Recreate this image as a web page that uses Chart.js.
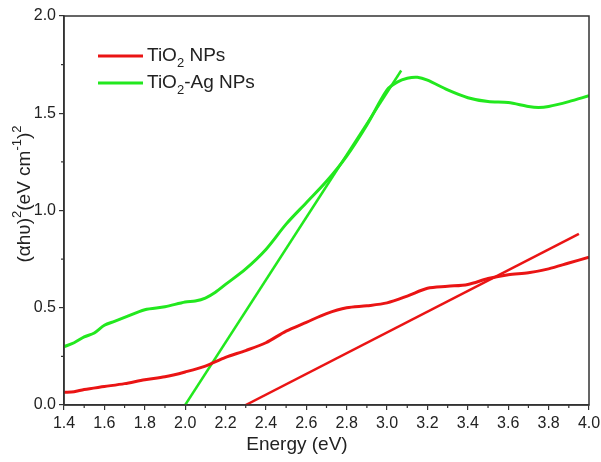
<!DOCTYPE html>
<html><head><meta charset="utf-8">
<script src="https://cdn.jsdelivr.net/npm/chart.js@4.4.1/dist/chart.umd.min.js"></script>
<style>html,body{margin:0;padding:0;background:#fff}#wrap{width:601px;height:462px}</style>
</head><body><div id="wrap"><canvas id="c" width="601" height="462"></canvas></div>
<script>
const xTicks = [1.4,1.6,1.8,2.0,2.2,2.4,2.6,2.8,3.0,3.2,3.4,3.6,3.8,4.0];
const yTicks = [0.0,0.5,1.0,1.5,2.0];
const tiEnergy = [1.4,1.45,1.5,1.6,1.7,1.8,1.9,2.0,2.1,2.2,2.3,2.4,2.5,2.6,2.7,2.8,2.9,3.0,3.1,3.2,3.3,3.4,3.5,3.6,3.7,3.8,3.9,4.0];
const tiValues = [0.065,0.068,0.08,0.095,0.11,0.13,0.145,0.17,0.2,0.245,0.28,0.32,0.38,0.425,0.47,0.50,0.51,0.525,0.56,0.60,0.61,0.62,0.65,0.67,0.68,0.70,0.73,0.76];
const agEnergy = [1.4,1.45,1.5,1.55,1.6,1.65,1.7,1.8,1.9,2.0,2.05,2.1,2.15,2.2,2.3,2.4,2.5,2.6,2.7,2.8,2.9,3.0,3.05,3.1,3.15,3.2,3.3,3.4,3.5,3.6,3.7,3.75,3.8,3.9,4.0];
const agValues = [0.30,0.32,0.35,0.37,0.41,0.43,0.45,0.49,0.505,0.53,0.535,0.55,0.58,0.62,0.70,0.80,0.93,1.04,1.15,1.28,1.44,1.62,1.66,1.68,1.685,1.67,1.62,1.58,1.56,1.555,1.535,1.53,1.535,1.56,1.59];
const tiFitX = [2.3,3.95];
const tiFitY = [0.0,0.88];
const agFitX = [2.0,3.07];
const agFitY = [0.0,1.72];
const RED = '#ea1414', GREEN = '#22e81e';
const pts = (xs,ys)=>xs.map((x,i)=>({x:x,y:ys[i]}));
const FONT = "'Liberation Sans', Arial, sans-serif";

const deco = {
  id:'deco',
  afterDraw(chart){
    const ctx = chart.ctx, a = chart.chartArea, xs = chart.scales.x, ys = chart.scales.y;
    ctx.save();
    ctx.strokeStyle = '#333'; ctx.lineWidth = 1.5;
    ctx.strokeRect(a.left, a.top, a.right-a.left, a.bottom-a.top);
    // minor ticks
    ctx.lineWidth = 1.2;
    for (let i=0;i<xTicks.length-1;i++){
      const v=(xTicks[i]+xTicks[i+1])/2, px=xs.getPixelForValue(v);
      ctx.beginPath(); ctx.moveTo(px,a.bottom); ctx.lineTo(px,a.bottom+3); ctx.stroke();
    }
    for (let i=0;i<yTicks.length-1;i++){
      const v=(yTicks[i]+yTicks[i+1])/2, py=ys.getPixelForValue(v);
      ctx.beginPath(); ctx.moveTo(a.left,py); ctx.lineTo(a.left-3,py); ctx.stroke();
    }
    // legend
    const items=[['TiO','2',' NPs',RED],['TiO','2','-Ag NPs',GREEN]];
    items.forEach((it,i)=>{
      const y = 56 + i*27;
      ctx.strokeStyle=it[3]; ctx.lineWidth=3;
      ctx.beginPath(); ctx.moveTo(98,y); ctx.lineTo(143,y); ctx.stroke();
      ctx.fillStyle='#222'; ctx.textBaseline='middle'; ctx.textAlign='left';
      ctx.font='19px '+FONT;
      let x=147; ctx.fillText(it[0],x,y); x+=ctx.measureText(it[0]).width;
      ctx.font='13px '+FONT; ctx.fillText(it[1],x,y+7); x+=ctx.measureText(it[1]).width;
      ctx.font='19px '+FONT; ctx.fillText(it[2],x,y);
    });
    // x title
    ctx.fillStyle='#222'; ctx.font='19px '+FONT; ctx.textAlign='center'; ctx.textBaseline='middle';
    ctx.fillText('Energy (eV)', 297, 445);
    // y title
    const parts=[['(αhʋ)',0],['2',1],['(eV cm',0],['-1',1],[')',0],['2',1]];
    ctx.save(); ctx.translate(25,194); ctx.rotate(-Math.PI/2);
    let w=0; parts.forEach(p=>{ctx.font=(p[1]?'13px ':'19px ')+FONT; w+=ctx.measureText(p[0]).width;});
    let x=-w/2; ctx.textAlign='left';
    parts.forEach(p=>{ctx.font=(p[1]?'13px ':'19px ')+FONT; ctx.fillText(p[0],x,p[1]?-8:0); x+=ctx.measureText(p[0]).width;});
    ctx.restore();
    ctx.restore();
  }
};

new Chart(document.getElementById('c'),{
  type:'scatter',
  data:{datasets:[
    {label:'TiO2 NPs',data:pts(tiEnergy,tiValues),showLine:true,borderColor:RED,borderWidth:3,pointRadius:0,tension:0.3},
    {label:'TiO2-Ag NPs',data:pts(agEnergy,agValues),showLine:true,borderColor:GREEN,borderWidth:3,pointRadius:0,tension:0.3},
    {label:'fit1',data:pts(tiFitX,tiFitY),showLine:true,borderColor:RED,borderWidth:2.5,pointRadius:0},
    {label:'fit2',data:pts(agFitX,agFitY),showLine:true,borderColor:GREEN,borderWidth:2.5,pointRadius:0}
  ]},
  options:{
    responsive:false, animation:false,
    layout:{padding:{top:16,right:12,left:0,bottom:0}},
    plugins:{legend:{display:false},tooltip:{enabled:false}},
    scales:{
      x:{type:'linear',min:1.4,max:4.0,
        afterBuildTicks(s){s.ticks=xTicks.map(v=>({value:v}));},
        afterFit(s){s.height=57; s.paddingRight=0; s.paddingLeft=0;},
        grid:{display:true,drawOnChartArea:false,drawTicks:true,tickLength:5,color:'#333',lineWidth:1.2},
        border:{display:true,color:'#333',width:1.5},
        ticks:{color:'#222',font:{family:FONT,size:16},padding:4,maxRotation:0,autoSkip:false,callback:v=>v.toFixed(1)}},
      y:{type:'linear',min:0,max:2.0,
        afterBuildTicks(s){s.ticks=yTicks.map(v=>({value:v}));},
        afterFit(s){s.width=64; s.paddingTop=0; s.paddingBottom=0;},
        grid:{display:true,drawOnChartArea:false,drawTicks:true,tickLength:5,color:'#333',lineWidth:1.2},
        border:{display:true,color:'#333',width:1.5},
        ticks:{color:'#222',font:{family:FONT,size:16},padding:3,callback:v=>v.toFixed(1)}}
    }
  },
  plugins:[deco]
});
</script></body></html>
